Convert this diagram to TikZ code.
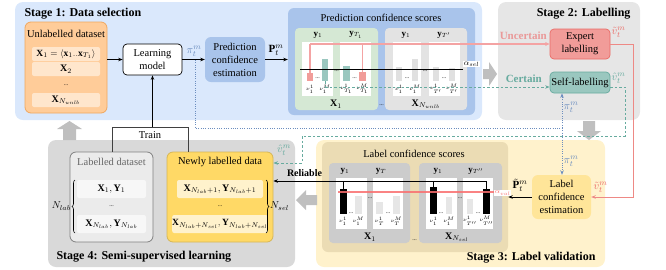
\documentclass[tikz,border=0pt]{standalone}
\usepackage{fontspec}
\setmainfont{Liberation Serif}
\usetikzlibrary{arrows.meta,decorations.pathreplacing,calc}
\definecolor{sonebg}{HTML}{DAE8FC}
\definecolor{stwobg}{HTML}{E6E6E6}
\definecolor{sthreebg}{HTML}{FFF2CC}
\definecolor{sfourbg}{HTML}{D9D9D9}
\definecolor{pblue}{HTML}{A9C4EB}
\definecolor{orfill}{HTML}{FFCC99}
\definecolor{ordraw}{HTML}{F0A860}
\definecolor{orin}{HTML}{FFE6CC}
\definecolor{gbox}{HTML}{D5E8D4}
\definecolor{lgbox}{HTML}{E3E3E3}
\definecolor{redbar}{HTML}{F19C99}
\definecolor{grbar}{HTML}{9AC7BF}
\definecolor{redln}{HTML}{F4A3A3}
\definecolor{tealc}{HTML}{67AB9F}
\definecolor{bdotc}{HTML}{6C8EBF}
\definecolor{exfill}{HTML}{F19C99}
\definecolor{exdraw}{HTML}{EA6B66}
\definecolor{tanc}{HTML}{EBDCB4}
\definecolor{gboxb}{HTML}{CCCCCC}
\definecolor{lbar}{HTML}{E6E6E6}
\definecolor{lbarb}{HTML}{E0E0E0}
\definecolor{lcefill}{HTML}{FFE599}
\definecolor{ldfill}{HTML}{EBEBEB}
\definecolor{lddraw}{HTML}{808080}
\definecolor{ldin}{HTML}{F7F7F7}
\definecolor{ndfill}{HTML}{FFD966}
\definecolor{nddraw}{HTML}{D6B656}
\definecolor{ndin}{HTML}{FFF2CC}
\definecolor{fatarrow}{HTML}{BFBFBF}
\definecolor{uncol}{HTML}{EA9999}
\definecolor{vred}{HTML}{EA6B66}
\definecolor{valred}{HTML}{FA6E6E}
\newcommand{\RB}[7]{\node[inner sep=0pt, minimum width={(#4-#2)*1pt}, minimum height={(#5-#3)*1pt}, #6] (#1) at ({(#2+#4)/2},{(#3+#5)/2}) {#7};}
\begin{document}
\begin{tikzpicture}[x=1pt,y=-1pt,
  >={Stealth[length=4.5pt,width=3.5pt]},
  title/.style={font=\fontsize{12}{13}\selectfont\bfseries},
  txt/.style={font=\fontsize{10.5}{13}\selectfont, align=center},
  nul/.style={font=\fontsize{5.5}{6}\selectfont, inner sep=0.5pt},
  ylb/.style={font=\fontsize{9}{10}\selectfont, inner sep=0.5pt},
  xlb/.style={font=\fontsize{10}{11}\selectfont, inner sep=0.5pt},
  mlb/.style={font=\fontsize{11}{11}\selectfont, inner sep=0.5pt},
  dots/.style={font=\fontsize{6}{6}\selectfont, inner sep=0pt},
  conn/.style={line width=0.8pt},
  rl/.style={draw=redln, line width=1.6pt},
  gdash/.style={draw=tealc, line width=0.8pt, dash pattern=on 2.5pt off 2pt},
  bdot/.style={draw=bdotc, line width=0.8pt, dash pattern=on 1pt off 1.3pt},
  fat/.style={fill=fatarrow}
]
\useasboundingbox (0,0) rectangle (666,269);

% ---------- stage backgrounds ----------
\RB{s1}{15}{2}{482}{120}{fill=sonebg, rounded corners=8pt}{}
\RB{s2}{498}{2}{640}{120}{fill=stwobg, rounded corners=8pt}{}
\RB{s3}{316}{140}{605}{267}{fill=sthreebg, rounded corners=8pt}{}
\RB{s4}{48}{140}{295}{267}{fill=sfourbg, rounded corners=8pt}{}

\node[title, anchor=west] (t1) at (21,14) {Stage 1: Data selection};
\node[title, anchor=east] (t2) at (634,14) {Stage 2: Labelling};
\node[title, anchor=east] (t3) at (599,258) {Stage 3: Label validation};
\node[title, anchor=west] (t4) at (53,257) {Stage 4: Semi-supervised learning};

% ---------- fat grey arrows ----------
\fill[fat] (483,69) -- (489,69) -- (489,62) -- (497,74) -- (489,86) -- (489,79) -- (483,79) -- cycle;
\fill[fat] (583,121) -- (595,121) -- (595,131) -- (601,131) -- (589,140) -- (577,131) -- (583,131) -- cycle;
\fill[fat] (317,195) -- (306,195) -- (306,190) -- (296,200) -- (306,210) -- (306,205) -- (317,205) -- cycle;
\fill[fat] (63,140) -- (63,129) -- (57,129) -- (69.5,121) -- (82,129) -- (76,129) -- (76,140) -- cycle;

% ---------- Stage 1 ----------
\RB{unl}{25}{22}{107}{113}{fill=orfill, draw=ordraw, line width=0.8pt, rounded corners=6pt}{}
\node[txt] (unlt) at (66,34) {Unlabelled dataset};
\RB{ua}{32}{47}{100}{61}{fill=orin, rounded corners=2pt, font=\fontsize{9.5}{10}\selectfont}{$\mathbf{X}_1=\langle\mathbf{x}_1..\mathbf{x}_{T_1}\rangle$}
\RB{ub}{32}{62}{100}{76}{fill=orin, rounded corners=2pt, font=\fontsize{10}{10}\selectfont}{$\mathbf{X}_2$}
\node[dots] (ud) at (66,85) {...};
\RB{uc}{32}{93}{100}{107}{fill=orin, rounded corners=2pt, font=\fontsize{10}{10}\selectfont}{$\mathbf{X}_{N_{unlb}}$}

\RB{lm}{123}{44}{182}{75}{fill=white, draw=black, line width=0.7pt, rounded corners=4pt, txt}{Learning\\model}
\RB{pce}{205}{37}{265}{82}{fill=pblue, rounded corners=6pt, txt}{Prediction\\confidence\\estimation}

% prediction confidence scores
\RB{pcs}{288}{8}{475}{115}{fill=pblue, rounded corners=6pt}{}
\node[txt] (pcst) at (381,18) {Prediction confidence scores};
\RB{gx}{295}{28}{378}{110}{fill=gbox, rounded corners=4pt}{}
\RB{wx}{385}{28}{467}{110}{fill=lgbox, rounded corners=4pt}{}
\node[dots] (pdd) at (381.5,105) {...};
\RB{wpa}{302}{42}{333}{96}{fill=white}{}
\RB{wpb}{340}{42}{371}{96}{fill=white}{}
\RB{wpc}{393}{42}{421}{96}{fill=white}{}
\RB{wpd}{429}{42}{460}{96}{fill=white}{}
\node[ylb] (ya) at (318,35) {$\mathbf{y}_1$};
\node[ylb] (yb) at (356,35) {$\mathbf{y}_{T_1}$};
\node[ylb] (yc) at (406,35) {$\mathbf{y}_1$};
\node[ylb] (yd) at (444,35) {$\mathbf{y}_{T'}$};
\node[xlb] (xa) at (336,104) {$\mathbf{X}_1$};
\node[xlb] (xb) at (426,104) {$\mathbf{X}_{N_{unlb}}$};

\RB{ra}{307}{73}{313}{81}{fill=redbar}{}
\RB{ga}{322}{59}{328}{81}{fill=grbar}{}
\RB{gb}{343}{66}{350}{81}{fill=grbar}{}
\RB{rb}{359}{72}{366}{81}{fill=redbar}{}
\RB{qa}{396}{67}{402}{81}{fill=lbarb}{}
\RB{qb}{412}{59}{418}{81}{fill=lbarb}{}
\RB{qc}{433}{67}{439}{81}{fill=lbarb}{}
\RB{qd}{449}{68}{455}{81}{fill=lbarb}{}
\node[dots] (d1) at (317.5,78) {...};
\node[dots] (d2) at (336.5,71) {...};
\node[dots] (d3) at (354.5,78) {...};
\node[dots] (d4) at (407,78) {...};
\node[dots] (d5) at (425,71) {...};
\node[dots] (d6) at (444,78) {...};
\node[nul] (na) at (310,89) {$\nu_1^1$};
\node[nul] (nb) at (325,89) {$\nu_1^M$};
\node[nul] (nc) at (346.5,89) {$\nu_{T_1}^1$};
\node[nul] (nd1) at (362.5,89) {$\nu_{T_1}^M$};
\node[nul] (ne) at (399,89) {$\nu_1^1$};
\node[nul] (nf) at (415,89) {$\nu_1^M$};
\node[nul] (ng) at (436,89) {$\nu_{T'}^1$};
\node[nul] (nh) at (452,89) {$\nu_{T'}^M$};

\node[font=\fontsize{8}{8}\selectfont, fill=white, inner sep=0.8pt] (asel) at (471.5,64) {$\alpha_{sel}$};

% ---------- Stage 2 ----------
\RB{ex}{550}{29}{610}{59}{fill=exfill, draw=exdraw, line width=0.7pt, rounded corners=4pt, txt}{Expert\\labelling}
\RB{sl}{550}{72}{610}{93}{fill=grbar, draw=tealc, line width=0.7pt, rounded corners=4pt, txt}{Self-labelling}
\node[font=\fontsize{11}{12}\selectfont\bfseries, text=uncol, anchor=east, inner sep=1pt] (unc) at (548,36) {Uncertain};
\node[font=\fontsize{11}{12}\selectfont\bfseries, text=tealc, anchor=east, inner sep=1pt] (cer) at (543,79) {Certain};
\node[mlb, text=vred, anchor=west] (vt1) at (611,32) {$\tilde{v}_t^m$};
\node[mlb, text=tealc, anchor=west] (vh1) at (611,78) {$\hat{v}_t^m$};
\node[mlb, text=bdotc, anchor=west] (pi2) at (563,107) {$\pi_t^m$};

% ---------- Stage 3 ----------
\RB{lcs}{322}{142}{508}{252}{fill=tanc, rounded corners=6pt}{}
\node[txt] (lcst) at (414,154) {Label confidence scores};
\RB{gy}{329}{163}{410}{243}{fill=gboxb, rounded corners=4pt}{}
\RB{gz}{419}{163}{502}{243}{fill=gboxb, rounded corners=4pt}{}
\node[dots] (ldd) at (414.5,240) {...};
\RB{wqa}{336}{178}{367}{229}{fill=white}{}
\RB{wqb}{373}{178}{403}{229}{fill=white}{}
\RB{wqc}{426}{178}{457}{229}{fill=white}{}
\RB{wqd}{463}{178}{493}{229}{fill=white}{}
\node[ylb] (ye) at (345,171) {$\mathbf{y}_1$};
\node[ylb] (yf) at (381,171) {$\mathbf{y}_{T}$};
\node[ylb] (yg) at (438,171) {$\mathbf{y}_1$};
\node[ylb] (yh) at (476,171) {$\mathbf{y}_{T''}$};
\node[xlb] (xc) at (370,237) {$\mathbf{X}_1$};
\node[xlb] (xd) at (457,237) {$\mathbf{X}_{N_{sel}}$};

\RB{ba}{340}{189}{347}{214}{fill=black}{}
\RB{la}{355}{196}{362}{214}{fill=lbar}{}
\RB{lb}{376}{202}{383}{214}{fill=lbar}{}
\RB{lc}{393}{196}{400}{214}{fill=lbar}{}
\RB{bb}{430}{187}{437}{214}{fill=black}{}
\RB{le}{446}{197}{452}{214}{fill=lbar}{}
\RB{lf}{467}{199}{473}{214}{fill=lbar}{}
\RB{bc}{483}{189}{490}{214}{fill=black}{}
\node[dots] (e1) at (351,213) {...};
\node[dots] (e2) at (370,198) {...};
\node[dots] (e3) at (388,213) {...};
\node[dots] (e4) at (441,213) {...};
\node[dots] (e5) at (460,198) {...};
\node[dots] (e6) at (478,213) {...};
\node[nul] (ma) at (343,221) {$\nu_1^1$};
\node[nul] (mb) at (358.5,221) {$\nu_1^M$};
\node[nul] (mc) at (379.5,221) {$\nu_{T}^1$};
\node[nul] (md) at (396.5,221) {$\nu_{T}^M$};
\node[nul] (me) at (433.5,221) {$\nu_1^1$};
\node[nul] (mf) at (449,221) {$\nu_1^M$};
\node[nul] (mg) at (470,221) {$\nu_{T''}^1$};
\node[nul] (mh) at (486.5,221) {$\nu_{T''}^M$};

\node[font=\fontsize{7.5}{8}\selectfont, fill=white, inner sep=0.6pt, text=valred, anchor=west] (aval) at (494,193) {$\alpha_{val}$};

\RB{lce}{532}{175}{591}{219}{fill=lcefill, rounded corners=6pt, txt}{Label\\confidence\\estimation}
\node[mlb] (pt2) at (520,185) {$\tilde{\mathbf{P}}_t^m$};
\node[mlb, text=vred, anchor=west] (vt2) at (593,187) {$\tilde{v}_t^m$};
\node[mlb, text=bdotc, anchor=west] (pi3) at (563,161) {$\pi_t^m$};

% ---------- Stage 4 ----------
\RB{ld}{70}{152}{153}{242}{fill=ldfill, draw=lddraw, line width=0.8pt, rounded corners=6pt}{}
\node[txt, text=black!60] (ldt) at (111.5,162) {Labelled dataset};
\RB{lda}{77}{180}{146}{198}{fill=ldin, rounded corners=2pt, font=\fontsize{10}{10}\selectfont}{$\mathbf{X}_1,\mathbf{Y}_1$}
\node[dots] (ldd2) at (111.5,206) {...};
\RB{ldb}{77}{215}{146}{233}{fill=ldin, rounded corners=2pt, font=\fontsize{10}{10}\selectfont}{$\mathbf{X}_{N_{lab}},\mathbf{Y}_{N_{lab}}$}

\RB{nd}{167}{152}{273}{242}{fill=ndfill, draw=nddraw, line width=0.8pt, rounded corners=6pt}{}
\node[txt] (ndt) at (220,162) {Newly labelled data};
\RB{nda}{177}{180}{263}{198}{fill=ndin, rounded corners=2pt, font=\fontsize{10}{10}\selectfont}{$\mathbf{X}_{N_{lab}+1},\mathbf{Y}_{N_{lab}+1}$}
\node[dots] (ndd) at (220,206) {...};
\RB{ndb}{177}{215}{263}{233}{fill=ndin, rounded corners=2pt, font=\fontsize{9.5}{10}\selectfont}{$\mathbf{X}_{N_{lab}+N_{sel}},\mathbf{Y}_{N_{lab}+N_{sel}}$}

\coordinate (brA) at (75,233);
\coordinate (brB) at (75,180);
\draw[decorate, decoration={brace, amplitude=3pt}, line width=0.6pt] (brA) -- (brB);
\node[font=\fontsize{10}{10}\selectfont, anchor=east, inner sep=1pt] (nlab) at (72,206) {$N_{lab}$};
\coordinate (brC) at (266,180);
\coordinate (brD) at (266,233);
\draw[decorate, decoration={brace, amplitude=3pt}, line width=0.6pt] (brC) -- (brD);
\node[font=\fontsize{10}{10}\selectfont, anchor=west, inner sep=1pt] (nsel) at (269,206) {$N_{sel}$};

\node[txt] (train) at (150,135) {Train};
\node[font=\fontsize{10}{11}\selectfont\bfseries] (rel) at (304.5,173) {Reliable};
\node[mlb, text=tealc] (vh2) at (284,150) {$\hat{v}_t^m$};

% ---------- connectors ----------
\draw[conn,->] (lm.west -| unl.east) -- (lm.west);
\draw[conn,->] (lm.east) -- (pce.west);
\node[mlb, text=bdotc] (pi1) at (194,51) {$\pi_t^m$};
\draw[conn,->] (pce.east) -- (pce.east -| pcs.west);
\node[mlb] (pt1) at (276,50) {$\mathbf{P}_t^m$};

% red uncertain lines
\draw[rl] (ra.north) -- (ra.north |- ex.west);
\draw[rl] (rb.north) -- (rb.north |- ex.west);
\draw[rl, ->, >={Stealth[length=4.5pt,width=4pt]}] (ra.north |- ex.west) -- (ex.west);

% green certain dashed
\coordinate (gd) at (325,87);
\draw[gdash] (ga.south) -- (gd);
\draw[gdash,->] (gd) -- (gd -| sl.west);

% threshold sel
\coordinate (th1) at (300,69);
\draw[line width=0.8pt] (th1) -- (th1 -| asel.west);

% blue dotted pi
\coordinate (pib) at (195,60);
\coordinate (bj) at (562,128);
\draw[bdot] (pib) |- (bj);
\draw[bdot,->] (bj) -- (bj |- sl.south);
\draw[bdot,->] (bj) -- (bj |- lce.north);

% expert to label confidence estimation
\coordinate (rc) at (633,44);
\draw[draw=vred!80, line width=0.9pt, ->] (ex.east) -- (rc) |- (lce.east);

% self-labelling to newly labelled
\coordinate (tc1) at (625,136);
\coordinate (tc3) at (302,163);
\draw[gdash,->] (sl.east |- gd) -| (tc1) -| (tc3) -- (tc3 -| nd.east);

% label validation
\coordinate (th2) at (338,192);
\coordinate (rl0) at (486,181);
\draw[line width=0.8pt] (ba.north) -- (ba.north |- rl0);
\draw[line width=0.8pt] (bb.north) -- (bb.north |- rl0);
\draw[conn,->] (bc.north) |- (rl0 -| nd.east);
\draw[draw=valred, opacity=0.85, line width=1.5pt] (th2) -- (th2 -| aval.west);
\draw[conn,->] (lce.west) -- (lce.west -| lcs.east);

% train
\coordinate (trL) at (112,127);
\coordinate (trR) at (188,127);
\draw[line width=0.8pt, draw=black!75] (ld.north -| trL) -- (trL) -- (trR) -- (nd.north -| trR);
\draw[conn,->] (lm.south |- trL) -- (lm.south);
\end{tikzpicture}
\end{document}
